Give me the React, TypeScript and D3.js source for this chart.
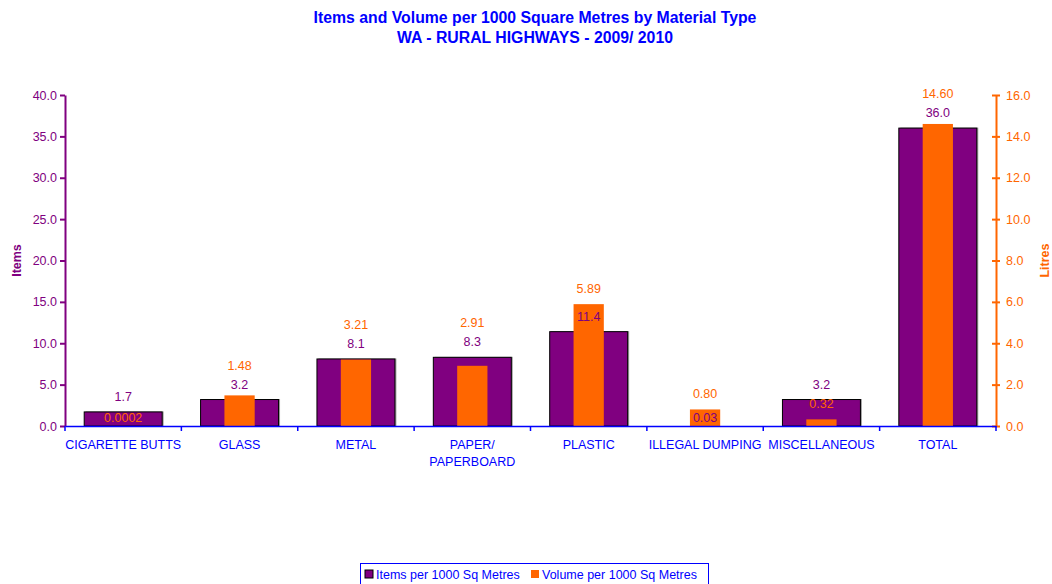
import { useRef, useEffect } from "react";
import { select, scaleBand, scaleLinear, axisLeft, axisRight, axisBottom } from "d3";

const categories = [
  "CIGARETTE BUTTS",
  "GLASS",
  "METAL",
  "PAPER/\nPAPERBOARD",
  "PLASTIC",
  "ILLEGAL DUMPING",
  "MISCELLANEOUS",
  "TOTAL",
];
const itemsValues = [1.7, 3.2, 8.1, 8.3, 11.4, 0.03, 3.2, 36.0];
const volumeValues = [0.0002, 1.48, 3.21, 2.91, 5.89, 0.8, 0.32, 14.6];
const itemsTicks = [0, 5, 10, 15, 20, 25, 30, 35, 40];
const volumeTicks = [0, 2, 4, 6, 8, 10, 12, 14, 16];
const seriesNames = ["Items per 1000 Sq Metres", "Volume per 1000 Sq Metres"];

const PURPLE = "#800080";
const ORANGE = "#FF6600";
const BLUE = "#0000FF";
const FONT = "'Liberation Sans', Arial, sans-serif";

const fmtItems = (v) => (v < 0.1 ? String(v) : v.toFixed(1));
const fmtVolume = (v) => (v < 0.01 ? String(v) : v.toFixed(2));

const App = () => {
  const svgRef = useRef(null);
  const width = 1052;
  const height = 584;
  const margin = { top: 95, right: 56, bottom: 158, left: 65 };

  useEffect(() => {
    const svgEl = select(svgRef.current);
    svgEl.selectAll("*").remove();

    const x0 = margin.left;
    const x1 = width - margin.right;
    const y0 = height - margin.bottom;
    const y1 = margin.top;

    const x = scaleBand().domain(categories).range([x0, x1]).padding(0);
    const yItems = scaleLinear().domain([0, 40]).range([y0, y1]);
    const yVol = scaleLinear().domain([0, 16]).range([y0, y1]);

    const bw = x.bandwidth();
    const purpleW = bw * 0.67;
    const orangeW = bw * 0.26;

    // title
    const titleX = 535;
    const title = svgEl
      .append("text")
      .attr("text-anchor", "middle")
      .attr("fill", BLUE)
      .style("font-family", FONT)
      .style("font-weight", "bold")
      .style("font-size", "15.8px");
    title.append("tspan").attr("x", titleX).attr("y", 22.5).text("Items and Volume per 1000 Square Metres by Material Type");
    title.append("tspan").attr("x", titleX).attr("y", 42.5).text("WA - RURAL HIGHWAYS - 2009/ 2010");

    // purple bars with a grey shadow (bars thinner than a pixel are not drawn)
    const visible = itemsValues
      .map((v, i) => ({ v, c: categories[i] }))
      .filter((d) => y0 - yItems(d.v) >= 1);
    const g = svgEl.append("g");
    g.selectAll(".shadow")
      .data(visible)
      .join("rect")
      .attr("x", (d) => x(d.c) + (bw - purpleW) / 2 + 1.5)
      .attr("y", (d) => yItems(d.v) - 0.5)
      .attr("width", purpleW)
      .attr("height", (d) => y0 - yItems(d.v) + 0.5)
      .attr("fill", "#a0a0a0");
    g.selectAll(".items")
      .data(visible)
      .join("rect")
      .attr("x", (d) => x(d.c) + (bw - purpleW) / 2)
      .attr("y", (d) => yItems(d.v))
      .attr("width", purpleW)
      .attr("height", (d) => y0 - yItems(d.v))
      .attr("fill", PURPLE)
      .attr("stroke", "#000")
      .attr("stroke-width", 1);
    g.selectAll(".vol")
      .data(volumeValues)
      .join("rect")
      .attr("x", (d, i) => x(categories[i]) + (bw - orangeW) / 2)
      .attr("y", (d) => yVol(d))
      .attr("width", orangeW)
      .attr("height", (d) => y0 - yVol(d))
      .attr("fill", ORANGE);

    // left axis
    const left = svgEl
      .append("g")
      .attr("transform", `translate(${x0},0)`)
      .call(axisLeft(yItems).tickValues(itemsTicks).tickSize(5).tickSizeOuter(0).tickFormat((v) => v.toFixed(1)));
    left.select(".domain").attr("stroke", PURPLE).attr("stroke-width", 2);
    left.selectAll("line").attr("stroke", PURPLE).attr("stroke-width", 2);
    left.selectAll("text").attr("fill", PURPLE).style("font-family", FONT).style("font-size", "12.5px");

    // right axis
    const right = svgEl
      .append("g")
      .attr("transform", `translate(${x1},0)`)
      .call(axisRight(yVol).tickValues(volumeTicks).tickSize(4).tickSizeOuter(0).tickPadding(6).tickFormat((v) => v.toFixed(1)));
    right.select(".domain").attr("stroke", ORANGE).attr("stroke-width", 2);
    right.selectAll(".tick line").attr("stroke", ORANGE).attr("stroke-width", 2).attr("x1", -4);
    right.selectAll("text").attr("fill", ORANGE).style("font-family", FONT).style("font-size", "12.5px");

    // bottom axis
    const bottom = svgEl
      .append("g")
      .attr("transform", `translate(0,${y0})`)
      .call(axisBottom(x).tickSize(0).tickPadding(13));
    bottom.select(".domain").attr("stroke", BLUE).attr("stroke-width", 1.5);
    bottom.selectAll(".tick text").remove();
    bottom
      .selectAll(".sep")
      .data([...categories, null])
      .join("line")
      .attr("x1", (d, i) => x0 + i * bw)
      .attr("x2", (d, i) => x0 + i * bw)
      .attr("y1", 0)
      .attr("y2", 5)
      .attr("stroke", BLUE)
      .attr("stroke-width", 1.5);
    categories.forEach((c) => {
      const t = bottom
        .append("text")
        .attr("text-anchor", "middle")
        .attr("fill", BLUE)
        .style("font-family", FONT)
        .style("font-size", "12.5px");
      c.split("\n").forEach((line, j) => {
        t.append("tspan")
          .attr("x", x(c) + bw / 2)
          .attr("y", 23 + j * 17)
          .text(line);
      });
    });

    // axis titles
    svgEl
      .append("text")
      .attr("transform", `translate(21,${(y0 + y1) / 2}) rotate(-90)`)
      .attr("text-anchor", "middle")
      .attr("fill", PURPLE)
      .style("font-family", FONT)
      .style("font-weight", "bold")
      .style("font-size", "12.5px")
      .text("Items");
    svgEl
      .append("text")
      .attr("transform", `translate(1049,${(y0 + y1) / 2}) rotate(-90)`)
      .attr("text-anchor", "middle")
      .attr("fill", ORANGE)
      .style("font-family", FONT)
      .style("font-weight", "bold")
      .style("font-size", "12.5px")
      .text("Litres");

    // value labels: tiny bars get their label at the base, otherwise the
    // orange label is lifted above the purple one when they collide
    categories.forEach((c, i) => {
      const cx = x(c) + bw / 2;
      const pTiny = y0 - yItems(itemsValues[i]) < 1;
      const oTiny = y0 - yVol(volumeValues[i]) < 1;
      const py = pTiny ? y0 - 4 : yItems(itemsValues[i]) - 11;
      let oy = oTiny ? y0 - 4 : yVol(volumeValues[i]) - 11;
      if (!oTiny && !pTiny && Math.abs(oy - py) < 15) oy = py - 19;
      svgEl
        .append("text")
        .attr("x", cx)
        .attr("y", py)
        .attr("text-anchor", "middle")
        .attr("fill", PURPLE)
        .style("font-family", FONT)
        .style("font-size", "12.5px")
        .text(fmtItems(itemsValues[i]));
      svgEl
        .append("text")
        .attr("x", cx)
        .attr("y", oy)
        .attr("text-anchor", "middle")
        .attr("fill", ORANGE)
        .style("font-family", FONT)
        .style("font-size", "12.5px")
        .text(fmtVolume(volumeValues[i]));
    });

    // legend
    const legend = svgEl.append("g").attr("transform", "translate(360,563)");
    legend
      .append("rect")
      .attr("x", 0.5)
      .attr("y", 0.5)
      .attr("width", 348)
      .attr("height", 24)
      .attr("fill", "#fff")
      .attr("stroke", BLUE)
      .attr("stroke-width", 1);
    const items = [
      { name: seriesNames[0], color: PURPLE, stroke: "#000", x: 5 },
      { name: seriesNames[1], color: ORANGE, stroke: "none", x: 171 },
    ];
    items.forEach((it) => {
      legend
        .append("rect")
        .attr("x", it.x)
        .attr("y", 7)
        .attr("width", 8)
        .attr("height", 8)
        .attr("fill", it.color)
        .attr("stroke", it.stroke);
      legend
        .append("text")
        .attr("x", it.x + 11)
        .attr("y", 16)
        .attr("fill", BLUE)
        .style("font-family", FONT)
        .style("font-size", "12.5px")
        .text(it.name);
    });
  }, []);

  return (
    <svg
      ref={svgRef}
      width={width}
      height={height}
      style={{ position: "absolute", left: 0, top: 0, background: "#fff" }}
    ></svg>
  );
};

export default App;
